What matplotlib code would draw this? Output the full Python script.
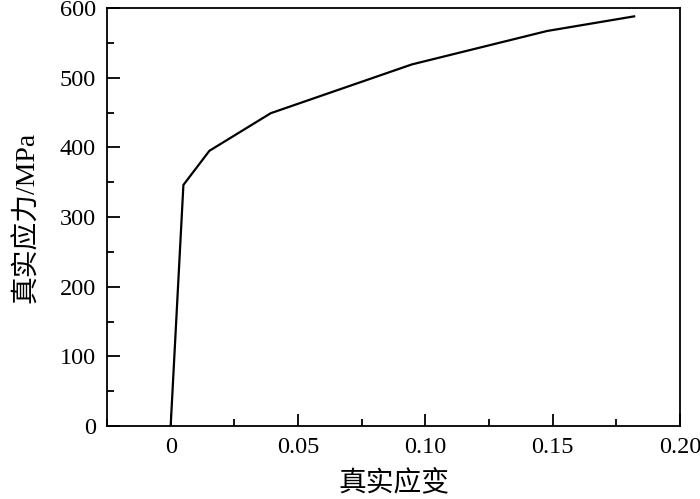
import matplotlib
matplotlib.use('Agg')
import matplotlib.pyplot as plt
from matplotlib.ticker import MultipleLocator, FixedFormatter, FixedLocator

# 真实应力-应变数据
strain = [0.0, 0.005, 0.0152, 0.0393, 0.0947, 0.1478, 0.182]
stress = [0, 346, 395, 449, 519, 567, 588]

xticks = [0, 0.05, 0.10, 0.15, 0.20]
xticklabels = ['0', '0.05', '0.10', '0.15', '0.20']
yticks = [0, 100, 200, 300, 400, 500, 600]

plt.rcParams['font.family'] = ['Liberation Serif', 'Noto Sans CJK SC']

fig = plt.figure(figsize=(7.0, 4.99), dpi=100)
ax = fig.add_axes([107 / 700, 1 - 426 / 499, (680 - 107) / 700, (426 - 8) / 499])

ax.plot(strain, stress, color='black', lw=1.6)

ax.set_xlim(-0.025, 0.2)
ax.set_ylim(0, 600)
ax.xaxis.set_major_locator(FixedLocator(xticks))
ax.xaxis.set_major_formatter(FixedFormatter(xticklabels))
ax.xaxis.set_minor_locator(MultipleLocator(0.025))
ax.set_yticks(yticks)
ax.yaxis.set_minor_locator(MultipleLocator(50))

ax.tick_params(which='both', direction='in', top=False, right=False, width=1.3,
               labelsize=17.5, pad=8)
ax.tick_params(which='major', length=9)
ax.tick_params(which='minor', length=5)
for s in ax.spines.values():
    s.set_linewidth(1.3)

ax.set_xlabel('真实应变', fontsize=20, labelpad=9, fontweight='light')
ax.set_ylabel('真实应力/MPa', fontsize=20, labelpad=14, fontweight='light')

fig.savefig('out.png', dpi=100)
